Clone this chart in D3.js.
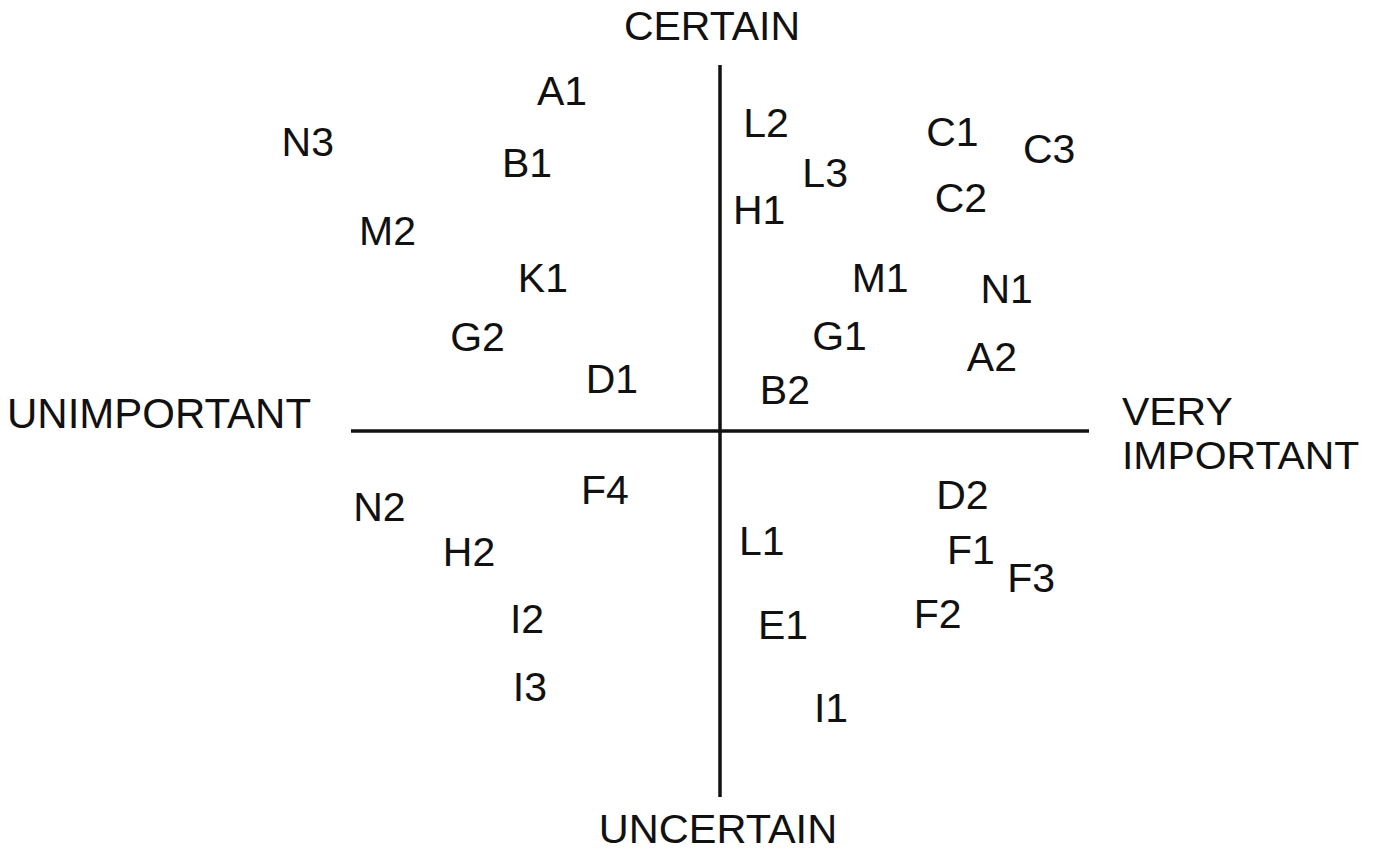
<!DOCTYPE html>
<html>
<head>
<meta charset="utf-8">
<script src="https://cdn.jsdelivr.net/npm/d3@7"></script>
<style>
  html, body { margin: 0; padding: 0; background: #fff; }
  svg { display: block; }
  text { font-family: "Liberation Sans", Arial, sans-serif; fill: #111; }
</style>
</head>
<body>
<svg id="chart" width="1382" height="854"></svg>
<script>
// ---- data ----
const items      = ["A1","N3","B1","M2","K1","G2","D1","L2","L3","H1","C1","C3","C2","M1","N1","G1","A2","B2",
                    "F4","N2","H2","L1","D2","F1","F3","F2","I2","E1","I3","I1"];
const importance = [-4.28,-11.17,-5.23,-9.01,-4.80,-6.57,-2.93,1.25,2.85,1.06,6.30,8.92,6.53,4.34,7.77,3.24,7.37,1.76,
                    -3.12,-9.23,-6.80,1.13,6.57,6.80,8.43,5.90,-5.23,1.71,-5.15,3.01];
const certainty  = [9.30,7.92,7.35,5.49,4.21,2.60,1.45,8.44,7.06,6.05,8.20,7.73,6.38,4.21,3.91,2.62,2.05,1.15,
                    -1.60,-2.05,-3.28,-2.99,-1.74,-3.22,-4.01,-4.97,-5.11,-5.27,-6.97,-7.56];
const axisDomain = [-10, 10];
const axisTop    = "CERTAIN";
const axisBottom = "UNCERTAIN";
const axisLeft   = "UNIMPORTANT";
const axisRight  = ["VERY", "IMPORTANT"];

// ---- scales ----
const svg = d3.select("#chart");
const x = d3.scaleLinear().domain(axisDomain).range([351, 1089]);
const y = d3.scaleLinear().domain(axisDomain).range([797, 65]);

const fs = 41;
const capHalf = fs * 0.716 / 2;

// ---- axes (cross) ----
svg.append("line")
  .attr("x1", x(axisDomain[0])).attr("x2", x(axisDomain[1]))
  .attr("y1", y(0)).attr("y2", y(0))
  .attr("stroke", "#111").attr("stroke-width", 3.5);
svg.append("line")
  .attr("x1", x(0)).attr("x2", x(0))
  .attr("y1", y(axisDomain[1])).attr("y2", y(axisDomain[0]))
  .attr("stroke", "#111").attr("stroke-width", 3.5);

// ---- axis labels ----
svg.append("text").text(axisTop)
  .attr("x", x(0) - 8).attr("y", y(axisDomain[1]) - 25)
  .attr("text-anchor", "middle").attr("font-size", fs);
svg.append("text").text(axisBottom)
  .attr("x", x(0) - 2).attr("y", y(axisDomain[0]) + 46)
  .attr("text-anchor", "middle").attr("font-size", 41.5);
svg.append("text").text(axisLeft)
  .attr("x", x(axisDomain[0]) - 344).attr("y", y(0) - 3.5)
  .attr("text-anchor", "start").attr("font-size", 42);

// two-line right label, slightly condensed vertically so lines do not collide
const rx = x(axisDomain[1]) + 33;
axisRight.forEach((word, i) => {
  svg.append("g")
    .attr("transform", `translate(${rx},${y(0) - 6 + i * 44}) scale(1.05,1)`)
    .append("text")
    .attr("x", 0).attr("y", 0)
    .attr("text-anchor", "start").attr("font-size", 39)
    .text(word);
});

// ---- point labels ----
const data = items.map((name, i) => ({ name, imp: importance[i], cert: certainty[i] }));
svg.append("g").selectAll("text").data(data).join("text")
  .attr("x", d => x(d.imp))
  .attr("y", d => y(d.cert) + capHalf)
  .attr("text-anchor", "middle")
  .attr("font-size", fs)
  .text(d => d.name);
</script>
</body>
</html>
